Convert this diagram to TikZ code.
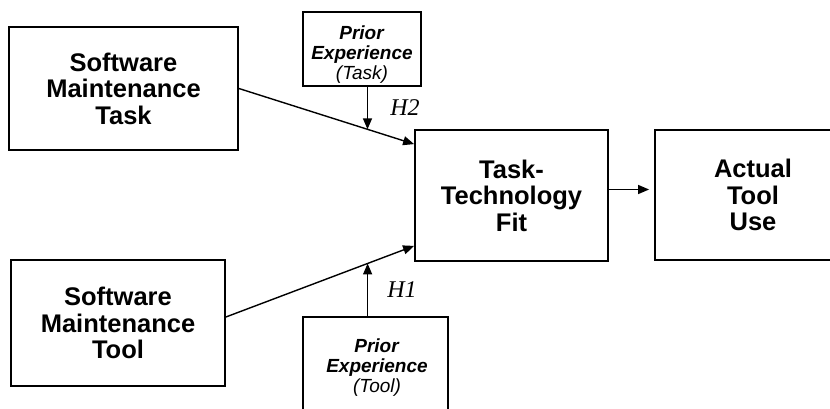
\documentclass[tikz,border=0pt]{standalone}
\usepackage{fontspec}
\setmainfont{Liberation Sans}
\newfontfamily\serifH{Liberation Serif}
\usetikzlibrary{arrows.meta}
\begin{document}
\begin{tikzpicture}[x=1pt,y=-1pt,
  box/.style={draw, line width=1.8pt, inner sep=0pt, align=center,
    font=\fontsize{25.5}{26.5}\selectfont\bfseries},
  pbox/.style={draw, line width=1.8pt, inner sep=0pt},
  ptext/.style={inner sep=0pt, align=center, font=\fontsize{19}{20}\selectfont},
  arr/.style={line width=1.4pt, -{Triangle[length=11pt,width=9pt]}},
  hlab/.style={inner sep=0pt, font=\fontsize{24}{24}\selectfont\serifH\itshape}]
\useasboundingbox (0,0) rectangle (830,409);
\clip (0,0) rectangle (830,409);
\fill[white] (0,0) rectangle (830,409);

\node[box, minimum width=229pt, minimum height=123pt] (smt) at (123.5,88.5) {Software\\Maintenance\\Task};
\node[box, minimum width=214pt, minimum height=126pt] (smtool) at (118,323) {Software\\Maintenance\\Tool};
\node[box, minimum width=193pt, minimum height=131pt] (ttf) at (511.5,195.5) {Task-\\Technology\\Fit};
\node[box, minimum width=196pt, minimum height=130pt] (atu) at (753,195) {Actual\\Tool\\Use};

\node[pbox, minimum width=118pt, minimum height=74pt] (ptask) at (362,49) {};
\node[ptext] (ptasktxt) at (362,55) {\textbf{\textit{Prior}}\\\textbf{\textit{Experience}}\\\textit{(Task)}};
\node[pbox, minimum width=145pt, minimum height=113pt] (ptool) at (375.5,373.5) {};
\node[ptext] (ptooltxt) at (377,368) {\textbf{\textit{Prior}}\\\textbf{\textit{Experience}}\\\textit{(Tool)}};

\draw[arr] (smt.east) -- ([yshift=-15pt]ttf.north west) coordinate[pos=0.734] (m2);
\draw[arr] ([yshift=6pt]smtool.east) -- ([yshift=16pt]ttf.south west) coordinate[pos=0.753] (m1);
\draw[arr] (m2 |- ptask.south) -- (m2);
\draw[arr] (m1 |- ptool.north) -- (m1);
\draw[arr, shorten >=5pt] ([yshift=6pt]ttf.east) -- ([yshift=6pt]ttf.east -| atu.west);

\node[hlab] (h2) at (405,108) {H2};
\node[hlab] (h1) at (402,290) {H1};
\end{tikzpicture}
\end{document}
